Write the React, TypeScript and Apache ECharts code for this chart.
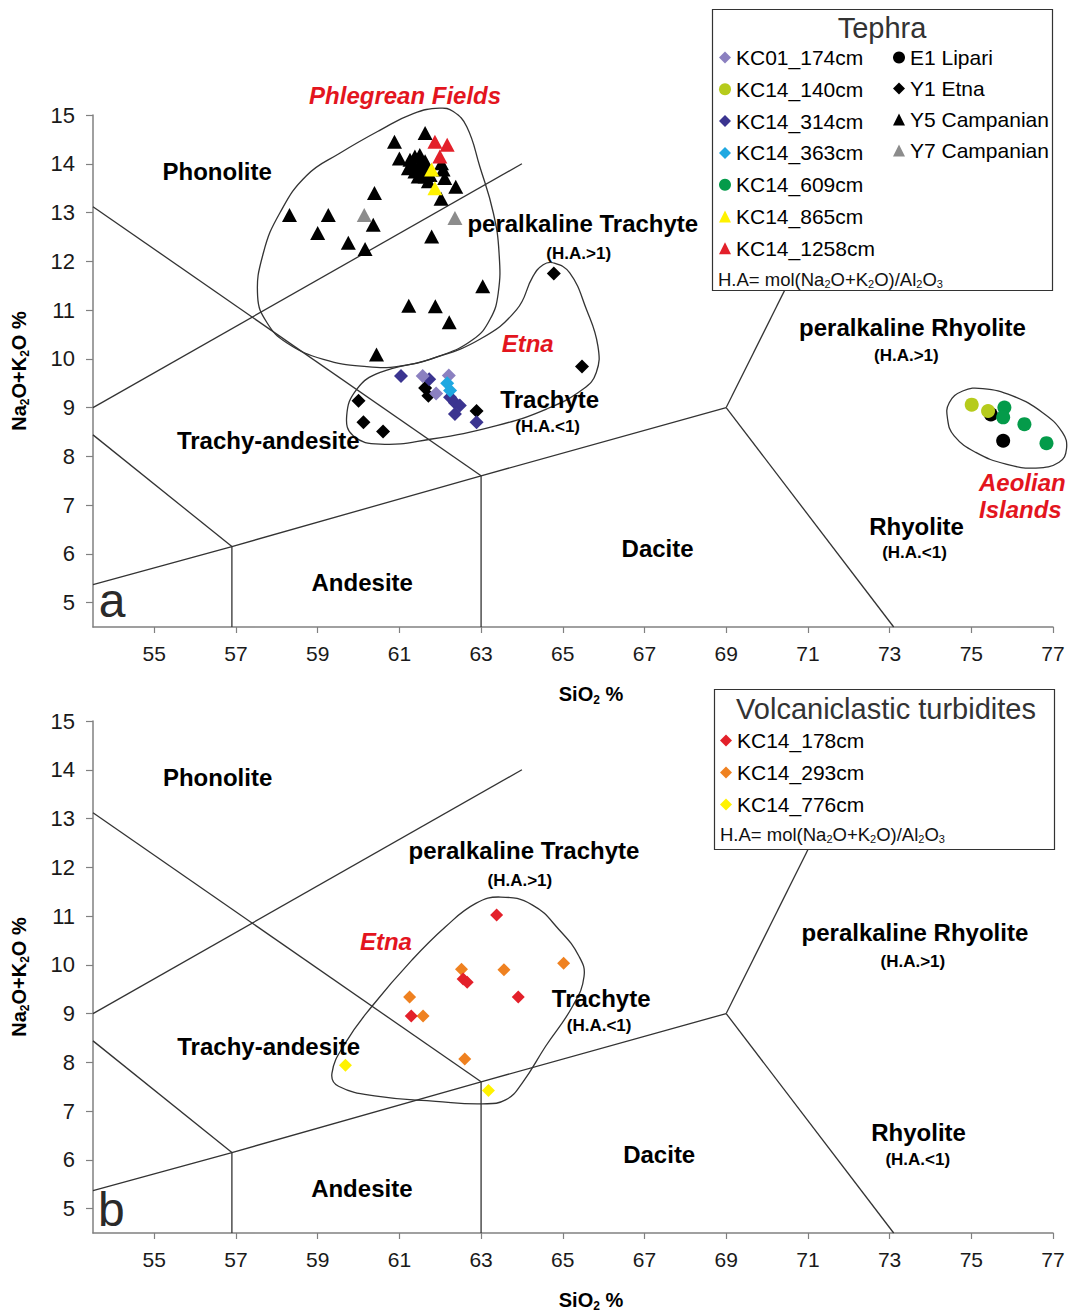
import React, { useEffect, useRef } from 'react';
import * as echarts from 'echarts';

const FONT = '"Liberation Sans", Arial, Helvetica, sans-serif';

// ---------- axes ----------
const X_TICKS = [55, 57, 59, 61, 63, 65, 67, 69, 71, 73, 75, 77];
const Y_TICKS = [5, 6, 7, 8, 9, 10, 11, 12, 13, 14, 15];

// ---------- TAS field boundaries (SiO2, Na2O+K2O) ----------
const TAS_LINES: number[][][] = [
  [[53.5, 9.0], [64, 14]],
  [[53.5, 13.12], [63, 7.6]],
  [[53.5, 8.44], [56.9, 6.15]],
  [[53.5, 5.37], [56.9, 6.15], [63, 7.6], [69, 9]],
  [[56.9, 4.5], [56.9, 6.15]],
  [[63, 4.5], [63, 7.6]],
  [[69, 9], [73.1, 4.5]],
  [[69, 9], [71.5, 13.2]],
];

// ---------- top plot (a): tephra ----------
const Y5_CAMPANIAN = [
  [58.31, 12.95], [59.26, 12.95], [59.0, 12.58], [59.75, 12.38], [60.16, 12.25],
  [60.39, 13.4], [60.36, 12.75], [60.88, 14.45], [61.63, 14.63], [61.0, 14.11],
  [62.38, 13.53], [62.02, 13.28], [61.79, 12.51], [63.04, 11.49], [61.23, 11.09],
  [61.88, 11.08], [62.22, 10.75], [60.44, 10.09],
  [61.26, 14.08], [61.38, 14.15], [61.5, 14.18], [61.34, 13.98], [61.5, 14.01],
  [61.63, 14.05], [61.22, 13.91], [61.38, 13.84], [61.55, 13.88], [61.67, 13.88],
  [61.46, 13.74], [61.63, 13.74], [61.75, 13.77], [62.03, 14.01], [62.07, 13.88],
  [62.11, 13.71], [61.71, 13.64],
];
const Y7_CAMPANIAN = [[60.14, 12.95], [62.36, 12.89]];
const KC14_1258 = [[61.87, 14.45], [62.17, 14.39], [61.99, 14.15]];
const KC14_865 = [[61.79, 13.88], [61.87, 13.5]];
const Y1_ETNA = [
  [64.78, 11.75], [65.47, 9.84], [60.0, 9.14], [60.12, 8.7], [60.6, 8.51],
  [61.63, 9.4], [61.71, 9.24], [62.89, 8.93],
];
const KC14_314 = [
  [61.04, 9.65], [61.73, 9.58], [62.24, 9.21], [62.36, 9.1], [62.48, 9.04],
  [62.36, 8.87], [62.89, 8.7],
];
const KC01_174 = [[61.57, 9.65], [61.9, 9.29], [62.21, 9.66]];
const KC14_363 = [[62.17, 9.5], [62.24, 9.35]];
const E1_LIPARI = [[75.48, 8.86], [75.78, 8.32]];
const KC14_140 = [[75.01, 9.06], [75.41, 8.93]];
const KC14_609 = [[75.81, 9.0], [75.78, 8.8], [76.3, 8.66], [76.84, 8.27]];

// ---------- bottom plot (b): volcaniclastic turbidites ----------
const KC14_178 = [[63.38, 11.02], [62.56, 9.71], [62.66, 9.64], [63.91, 9.34], [61.29, 8.95]];
const KC14_293 = [[62.52, 9.91], [63.56, 9.9], [65.02, 10.03], [61.25, 9.34], [61.58, 8.95], [62.6, 8.07]];
const KC14_776 = [[59.68, 7.94], [63.18, 7.42]];

// ---------- hand-drawn group outlines ----------
const OUTLINE_PHLEGREAN = [
  [57.53, 11.28], [57.67, 12.17], [58.08, 13.0], [58.73, 13.76], [59.55, 14.22],
  [60.53, 14.69], [61.34, 15.03], [61.99, 15.14], [62.32, 15.07], [62.65, 14.76],
  [62.97, 13.94], [63.3, 12.99], [63.44, 12.17], [63.42, 11.35], [63.22, 10.81],
  [62.81, 10.4], [61.99, 10.06], [61.01, 9.85], [60.2, 9.84], [59.14, 9.99],
  [58.24, 10.33], [57.76, 10.74],
];
const OUTLINE_ETNA_A = [
  [64.76, 11.97], [65.17, 11.76], [65.58, 11.01], [65.86, 10.26], [65.82, 9.72],
  [65.5, 9.38], [64.6, 8.97], [63.38, 8.63], [61.75, 8.35], [60.53, 8.25],
  [59.87, 8.42], [59.71, 8.83], [59.96, 9.38], [60.53, 9.72], [61.75, 9.99],
  [62.97, 10.4], [63.87, 11.01], [64.27, 11.69], [64.52, 11.93],
];
const OUTLINE_AEOLIAN = [
  [74.46, 9.1], [74.79, 9.34], [75.28, 9.39], [76.01, 9.24], [76.74, 8.9],
  [77.23, 8.49], [77.33, 8.15], [77.15, 7.88], [76.58, 7.76], [75.85, 7.84],
  [75.11, 8.08], [74.58, 8.42], [74.42, 8.76],
];
const OUTLINE_ETNA_B = [
  [63.48, 11.39], [64.25, 11.23], [64.91, 10.72], [65.4, 10.17], [65.52, 9.76],
  [65.24, 9.15], [64.58, 8.33], [64.01, 7.58], [63.6, 7.23], [63.03, 7.15],
  [61.89, 7.2], [60.49, 7.3], [59.51, 7.51], [59.35, 7.78], [59.68, 8.4],
  [60.33, 9.15], [61.31, 10.1], [62.13, 10.78], [62.87, 11.26],
];

// ---------- annotations (text, SiO2, Na2O+K2O) ----------
const FIELDS_A: [string, number, number][] = [
  ['Phonolite', 56.54, 13.85], ['peralkaline Trachyte', 65.49, 12.77], ['Trachyte', 64.68, 9.17],
  ['Trachy-andesite', 57.79, 8.33], ['Andesite', 60.09, 5.41], ['Dacite', 67.32, 6.12],
  ['Rhyolite', 73.66, 6.57], ['peralkaline Rhyolite', 73.56, 10.64],
];
const NOTES_A: [string, number, number][] = [
  ['(H.A.>1)', 65.39, 12.16], ['(H.A.<1)', 64.63, 8.62], ['(H.A.<1)', 73.61, 6.02], ['(H.A.>1)', 73.41, 10.07],
];
const GROUPS_A: [string, number, number][] = [
  ['Phlegrean Fields', 61.14, 15.39], ['Etna', 64.14, 10.32], ['Aeolian', 76.25, 7.47], ['Islands', 76.2, 6.9],
];
const FIELDS_B: [string, number, number][] = [
  ['Phonolite', 56.55, 13.85], ['peralkaline Trachyte', 64.05, 12.34], ['Trachyte', 65.94, 9.3],
  ['Trachy-andesite', 57.8, 8.32], ['Andesite', 60.08, 5.41], ['Dacite', 67.36, 6.11],
  ['Rhyolite', 73.71, 6.56], ['peralkaline Rhyolite', 73.62, 10.66],
];
const NOTES_B: [string, number, number][] = [
  ['(H.A.>1)', 63.95, 11.72], ['(H.A.<1)', 65.89, 8.75], ['(H.A.>1)', 73.57, 10.06], ['(H.A.<1)', 73.69, 6.0],
];
const GROUPS_B: [string, number, number][] = [['Etna', 60.67, 10.47]];
const PANEL_A: [string, number, number][] = [['a', 53.97, 5.04]];
const PANEL_B: [string, number, number][] = [['b', 53.95, 4.98]];

const LEGEND_A1 = ['KC01_174cm', 'KC14_140cm', 'KC14_314cm', 'KC14_363cm', 'KC14_609cm', 'KC14_865cm', 'KC14_1258cm'];
const LEGEND_A2 = ['E1 Lipari', 'Y1 Etna', 'Y5 Campanian', 'Y7 Campanian'];
const LEGEND_B = ['KC14_178cm', 'KC14_293cm', 'KC14_776cm'];

const FOOTNOTE = '{a|H.A= mol(Na}{s|2}{a|O+K}{s|2}{a|O)/Al}{s|2}{a|O}{s|3}';

function buildOption() {
  const axisColor = '#808080';
  const nameRich = {
    b: { fontSize: 20, fontWeight: 'bold', lineHeight: 24, fontFamily: FONT, color: '#000' },
    s: { fontSize: 12, fontWeight: 'bold', lineHeight: 12, verticalAlign: 'bottom', fontFamily: FONT, color: '#000' },
  };
  const xAxis = (gi: number) => ({
    type: 'value', gridIndex: gi, min: 53.5, max: 77,
    axisLine: { show: true, onZero: false, lineStyle: { color: axisColor, width: 1.5 } },
    axisTick: { show: true, customValues: X_TICKS, length: 6, lineStyle: { color: axisColor, width: 1.2 } },
    axisLabel: { customValues: X_TICKS, fontSize: 21, color: '#1a1a1a', margin: 16, fontFamily: FONT },
    splitLine: { show: false },
    name: '{b|SiO}{s|2}{b| %}', nameLocation: 'middle', nameGap: 55,
    nameTextStyle: { rich: nameRich, padding: [0, 0, 0, 36] },
  });
  const yAxis = (gi: number) => ({
    type: 'value', gridIndex: gi, min: 4.5, max: 15,
    axisLine: { show: true, onZero: false, lineStyle: { color: axisColor, width: 1.5 } },
    axisTick: { show: true, customValues: Y_TICKS, length: 7, lineStyle: { color: axisColor, width: 1.2 } },
    axisLabel: { customValues: Y_TICKS, fontSize: 22, color: '#1a1a1a', margin: 18, fontFamily: FONT },
    splitLine: { show: false },
    name: '{b|Na}{s|2}{b|O+K}{s|2}{b|O %}', nameLocation: 'middle', nameGap: 62, nameRotate: 90,
    nameTextStyle: { rich: nameRich },
  });

  const pts = (name: string, data: number[][], symbol: string, size: any, color: string, gi: number) => ({
    type: 'scatter', name, data, symbol, symbolSize: size, xAxisIndex: gi, yAxisIndex: gi,
    itemStyle: { color, opacity: 1 }, silent: true, z: 3, clip: false,
  });
  const outline = (name: string, poly: number[][], gi: number) => ({
    type: 'custom', name, xAxisIndex: gi, yAxisIndex: gi, data: [[60, 10]], silent: true, clip: false, z: 2,
    renderItem: (_p: any, api: any) => ({
      type: 'polygon',
      shape: { points: poly.map((p) => api.coord(p)), smooth: 0.45 },
      style: { fill: 'none', stroke: '#333', lineWidth: 1.3 },
    }),
  });
  const tas = (gi: number) => ({
    type: 'lines', name: 'tas' + gi, coordinateSystem: 'cartesian2d', xAxisIndex: gi, yAxisIndex: gi,
    polyline: true, silent: true, z: 1,
    lineStyle: { color: '#333', width: 1.3, opacity: 1 },
    data: TAS_LINES.map((c) => ({ coords: c })),
  });
  const annot = (name: string, items: [string, number, number][], gi: number, label: any) => ({
    type: 'scatter', name, xAxisIndex: gi, yAxisIndex: gi, silent: true, clip: false, z: 4,
    symbolSize: 1, itemStyle: { color: 'rgba(0,0,0,0)', opacity: 1 },
    data: items.map(([t, x, y]) => ({ name: t, value: [x, y] })),
    label: { show: true, position: 'inside', formatter: '{b}', fontFamily: FONT, opacity: 1, ...label },
  });
  const fieldStyle = { fontSize: 24, fontWeight: 'bold', color: '#000' };
  const noteStyle = { fontSize: 17, fontWeight: 'bold', color: '#000' };
  const groupStyle = { fontSize: 24, fontWeight: 'bold', fontStyle: 'italic', color: '#e3151e' };
  const panelStyle = { fontSize: 48, color: '#2a2a2a' };

  const legendText = { fontSize: 21, lineHeight: 21, color: '#000', fontFamily: FONT };
  const legendCommon = {
    orient: 'vertical', itemWidth: 12, itemHeight: 12, selectedMode: false, textStyle: legendText,
    padding: 0, z: 6,
  };

  const footRich = {
    a: { fontSize: 18.5, lineHeight: 20, fill: '#111', fontFamily: FONT },
    s: { fontSize: 11, lineHeight: 11, verticalAlign: 'bottom', fill: '#111', fontFamily: FONT },
  };

  return {
    animation: false,
    backgroundColor: '#fff',
    grid: [
      { left: 93, top: 115, width: 960, height: 512, outerBoundsMode: 'none' },
      { left: 93, top: 721, width: 960, height: 512, outerBoundsMode: 'none' },
    ],
    xAxis: [xAxis(0), xAxis(1)],
    yAxis: [yAxis(0), yAxis(1)],
    legend: [
      { ...legendCommon, data: LEGEND_A1, left: 719, top: 47, itemGap: 10.8 },
      { ...legendCommon, data: LEGEND_A2, left: 893, top: 47, itemGap: 10 },
      { ...legendCommon, data: LEGEND_B, left: 720, top: 730, itemGap: 11 },
    ],
    graphic: [
      { type: 'rect', z: 5, shape: { x: 712.5, y: 9.5, width: 340, height: 281 }, style: { fill: '#fff', stroke: '#333', lineWidth: 1.2 } },
      { type: 'rect', z: 5, shape: { x: 714.5, y: 689.5, width: 340, height: 160 }, style: { fill: '#fff', stroke: '#333', lineWidth: 1.2 } },
      { type: 'text', z: 7, x: 882, y: 28, style: { text: 'Tephra', fontSize: 29, fontFamily: FONT, fill: '#333', align: 'center', verticalAlign: 'middle' } },
      { type: 'text', z: 7, x: 886, y: 709, style: { text: 'Volcaniclastic turbidites', fontSize: 29, fontFamily: FONT, fill: '#333', align: 'center', verticalAlign: 'middle' } },
      { type: 'text', z: 7, x: 718, y: 279, style: { text: FOOTNOTE, rich: footRich, align: 'left', verticalAlign: 'middle' } },
      { type: 'text', z: 7, x: 720, y: 834, style: { text: FOOTNOTE, rich: footRich, align: 'left', verticalAlign: 'middle' } },
    ],
    series: [
      tas(0), tas(1),
      outline('outline-phlegrean', OUTLINE_PHLEGREAN, 0),
      outline('outline-etna-a', OUTLINE_ETNA_A, 0),
      outline('outline-aeolian', OUTLINE_AEOLIAN, 0),
      outline('outline-etna-b', OUTLINE_ETNA_B, 1),
      pts('Y5 Campanian', Y5_CAMPANIAN, 'triangle', [15, 14], '#000', 0),
      pts('Y7 Campanian', Y7_CAMPANIAN, 'triangle', [15, 14], '#8c8c8c', 0),
      pts('KC14_1258cm', KC14_1258, 'triangle', [15, 14], '#e3202a', 0),
      pts('KC14_865cm', KC14_865, 'triangle', [15, 14], '#fff200', 0),
      pts('Y1 Etna', Y1_ETNA, 'diamond', 14, '#000', 0),
      pts('KC14_314cm', KC14_314, 'diamond', 14, '#3b3490', 0),
      pts('KC01_174cm', KC01_174, 'diamond', 14, '#8b80c0', 0),
      pts('KC14_363cm', KC14_363, 'diamond', 14, '#1fa8e1', 0),
      pts('E1 Lipari', E1_LIPARI, 'circle', 14, '#000', 0),
      pts('KC14_140cm', KC14_140, 'circle', 14, '#b6cb1c', 0),
      pts('KC14_609cm', KC14_609, 'circle', 14, '#049b4a', 0),
      pts('KC14_293cm', KC14_293, 'diamond', 13, '#ef8120', 1),
      pts('KC14_178cm', KC14_178, 'diamond', 13, '#e3202a', 1),
      pts('KC14_776cm', KC14_776, 'diamond', 13, '#fff200', 1),
      annot('fields-a', FIELDS_A, 0, fieldStyle),
      annot('notes-a', NOTES_A, 0, noteStyle),
      annot('groups-a', GROUPS_A, 0, groupStyle),
      annot('panel-a', PANEL_A, 0, panelStyle),
      annot('fields-b', FIELDS_B, 1, fieldStyle),
      annot('notes-b', NOTES_B, 1, noteStyle),
      annot('groups-b', GROUPS_B, 1, groupStyle),
      annot('panel-b', PANEL_B, 1, panelStyle),
    ],
  };
}

export default function App() {
  const ref = useRef<HTMLDivElement>(null);
  useEffect(() => {
    document.body.style.margin = '0';
    if (!ref.current) return;
    const chart = echarts.init(ref.current, undefined, { renderer: 'svg' });
    chart.setOption(buildOption() as any);
    return () => chart.dispose();
  }, []);
  return (
    <div
      ref={ref}
      style={{ position: 'absolute', left: 0, top: 0, width: 1070, height: 1314, background: '#fff' }}
    />
  );
}
